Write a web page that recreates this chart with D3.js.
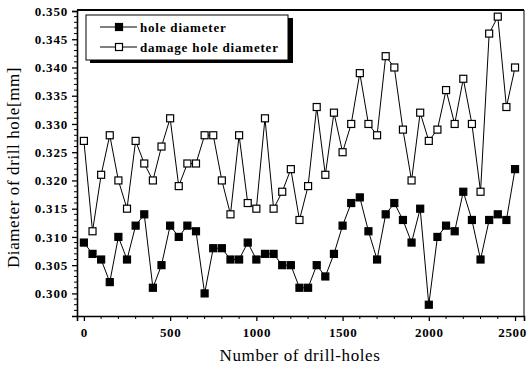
<!DOCTYPE html>
<html>
<head>
<meta charset="utf-8">
<script src="https://cdn.jsdelivr.net/npm/d3@7"></script>
<style>
  html, body { margin: 0; padding: 0; background: #fff; }
  svg { display: block; }
  text { font-family: "Liberation Serif", "DejaVu Serif", serif; fill: #000; }
</style>
</head>
<body>
<div id="chart"></div>
<script>
// drill-hole counts (every 50 holes)
const holes = d3.range(0, 2501, 50);

const holeDiameter = [
  0.309, 0.307, 0.306, 0.302, 0.310, 0.306, 0.312, 0.314, 0.301, 0.305,
  0.312, 0.310, 0.312, 0.311, 0.300, 0.308, 0.308, 0.306, 0.306, 0.309,
  0.306, 0.307, 0.307, 0.305, 0.305, 0.301, 0.301, 0.305, 0.303, 0.307,
  0.312, 0.316, 0.317, 0.311, 0.306, 0.314, 0.316, 0.313, 0.309, 0.315,
  0.298, 0.310, 0.312, 0.311, 0.318, 0.313, 0.306, 0.313, 0.314, 0.313,
  0.322
];

const damageDiameter = [
  0.327, 0.311, 0.321, 0.328, 0.320, 0.315, 0.327, 0.323, 0.320, 0.326,
  0.331, 0.319, 0.323, 0.323, 0.328, 0.328, 0.320, 0.314, 0.328, 0.316,
  0.315, 0.331, 0.315, 0.318, 0.322, 0.313, 0.319, 0.333, 0.321, 0.332,
  0.325, 0.330, 0.339, 0.330, 0.328, 0.342, 0.340, 0.329, 0.320, 0.332,
  0.327, 0.329, 0.336, 0.330, 0.338, 0.330, 0.318, 0.346, 0.349, 0.333,
  0.340
];

const xTicks = [0, 500, 1000, 1500, 2000, 2500];
const yTicks = [0.300, 0.305, 0.310, 0.315, 0.320, 0.325, 0.330, 0.335, 0.340, 0.345, 0.350];
const seriesNames = ['hole diameter', 'damage hole diameter'];

const W = 527, H = 370;
const plot = { left: 77, right: 524, top: 11, bottom: 316 };

const svg = d3.select('#chart').append('svg')
  .attr('width', W)
  .attr('height', H);

const x = d3.scaleLinear().domain([-40, 2552]).range([plot.left, plot.right]);
const y = d3.scaleLinear().domain([0.296, 0.350]).range([plot.bottom, plot.top]);

// frame (top + right)
svg.append('line')
  .attr('x1', plot.left).attr('x2', plot.right).attr('y1', plot.top - 1).attr('y2', plot.top - 1)
  .attr('stroke', '#000').attr('stroke-width', 2);
svg.append('line')
  .attr('x1', plot.right).attr('x2', plot.right).attr('y1', plot.top - 1).attr('y2', plot.bottom)
  .attr('stroke', '#000').attr('stroke-width', 1);

// y axis
const yAxis = svg.append('g')
  .attr('transform', `translate(${plot.left},0)`)
  .call(d3.axisLeft(y).tickValues(yTicks).tickFormat(d3.format('.3f')).tickSize(5).tickPadding(4));
yAxis.select('.domain').attr('stroke-width', 1.6);
yAxis.selectAll('.tick line').attr('stroke-width', 1.3);
yAxis.selectAll('text')
  .attr('font-size', 13).attr('font-weight', 'bold').attr('letter-spacing', 0.8);

// y minor ticks
svg.append('g')
  .selectAll('line')
  .data(d3.range(297, 350).filter(v => v % 5 !== 0).map(v => v / 1000))
  .enter()
  .append('line')
  .attr('x1', plot.left - 3).attr('x2', plot.left)
  .attr('y1', d => y(d)).attr('y2', d => y(d))
  .attr('stroke', '#000').attr('stroke-width', 1);

// x axis
const xAxis = svg.append('g')
  .attr('transform', `translate(0,${plot.bottom})`)
  .call(d3.axisBottom(x).tickValues(xTicks).tickFormat(d3.format('d')).tickSize(5).tickPadding(7));
xAxis.select('.domain').attr('stroke-width', 1.6);
xAxis.selectAll('.tick line').attr('stroke-width', 1.3);
xAxis.selectAll('text')
  .attr('font-size', 13).attr('font-weight', 'bold').attr('letter-spacing', 0.6)
  .attr('dx', d => d === 2500 ? -3 : 0);

// x minor ticks
svg.append('g')
  .selectAll('line')
  .data(d3.range(100, 2600, 100).filter(v => v % 500 !== 0))
  .enter()
  .append('line')
  .attr('x1', d => x(d)).attr('x2', d => x(d))
  .attr('y1', plot.bottom).attr('y2', plot.bottom + 3)
  .attr('stroke', '#000').attr('stroke-width', 1);

// axis titles
svg.append('text')
  .attr('x', 300).attr('y', 361)
  .attr('text-anchor', 'middle')
  .attr('font-size', 17)
  .attr('letter-spacing', 0.6)
  .text('Number of drill-holes');

svg.append('text')
  .attr('transform', `translate(19,${(plot.top + plot.bottom) / 2 + 4}) rotate(-90)`)
  .attr('text-anchor', 'middle')
  .attr('font-size', 17)
  .attr('letter-spacing', 0.6)
  .text('Diameter of drill hole[mm]');

// series
const line = d3.line()
  .x((d, i) => x(holes[i]))
  .y(d => y(d));

const sq = 7;

function drawSeries(values, filled) {
  svg.append('path')
    .datum(values)
    .attr('d', line)
    .attr('fill', 'none')
    .attr('stroke', '#000')
    .attr('stroke-width', 1);

  svg.append('g')
    .selectAll('rect')
    .data(values)
    .enter()
    .append('rect')
    .attr('x', (d, i) => x(holes[i]) - sq / 2)
    .attr('y', d => y(d) - sq / 2)
    .attr('width', sq)
    .attr('height', sq)
    .attr('fill', filled ? '#000' : '#fff')
    .attr('stroke', '#000')
    .attr('stroke-width', 1.2);
}

drawSeries(damageDiameter, false);
drawSeries(holeDiameter, true);

// legend
const lg = svg.append('g');
lg.append('rect')
  .attr('x', 90).attr('y', 18).attr('width', 203).attr('height', 45)
  .attr('fill', '#000');
lg.append('rect')
  .attr('x', 86).attr('y', 15).attr('width', 202).attr('height', 45)
  .attr('fill', '#fff').attr('stroke', '#000').attr('stroke-width', 1);

seriesNames.forEach((name, i) => {
  const ly = 27 + i * 20;
  lg.append('line')
    .attr('x1', 100).attr('x2', 137).attr('y1', ly).attr('y2', ly)
    .attr('stroke', '#000').attr('stroke-width', 1);
  lg.append('rect')
    .attr('x', 119 - sq / 2).attr('y', ly - sq / 2)
    .attr('width', sq).attr('height', sq)
    .attr('fill', i === 0 ? '#000' : '#fff')
    .attr('stroke', '#000').attr('stroke-width', 1.2);
  lg.append('text')
    .attr('x', 140).attr('y', ly + 4.5)
    .attr('font-size', 13)
    .attr('font-weight', 'bold')
    .attr('letter-spacing', 0.8)
    .text(name);
});
</script>
</body>
</html>
